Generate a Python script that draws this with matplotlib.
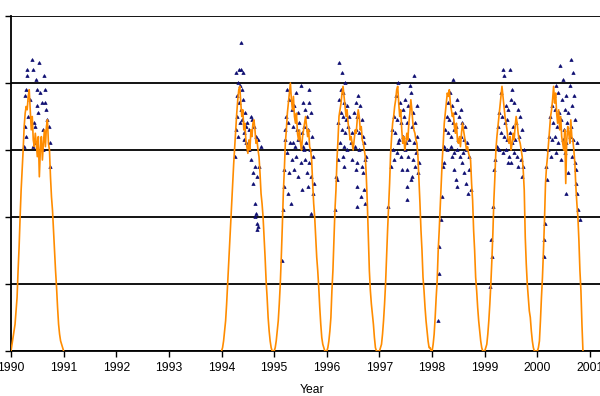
import numpy as np
import matplotlib
matplotlib.use("Agg")
import matplotlib.pyplot as plt

plt.rcParams['font.family'] = ['Liberation Sans', 'DejaVu Sans']

# modelled curve, weekly values (week 0 = 1 Jan)
line_1990 = [0, 2, 4, 6, 8, 12, 16, 24, 31, 40, 48, 54, 60, 67, 71, 73, 72, 76, 78, 72,
             66, 70, 63, 61, 65, 62, 58, 64, 52, 60, 64, 57, 62, 66, 61, 67, 69, 62, 60, 52,
             46, 42, 36, 30, 24, 19, 13, 8, 5, 3, 2, 1, 0]
line_1994 = [0, 1, 3, 6, 9, 14, 20, 26, 32, 38, 44, 50, 56, 61, 66, 71, 75, 78, 79, 74,
             70, 72, 66, 68, 63, 61, 59, 63, 60, 66, 64, 68, 69, 66, 62, 63, 60, 58, 53, 47,
             44, 40, 34, 28, 21, 16, 10, 6, 3, 1, 0, 0]
line_1995 = [0, 1, 3, 6, 9, 14, 20, 28, 37, 47, 54, 62, 66, 71, 74, 77, 80, 75, 72, 76,
             70, 68, 71, 65, 63, 66, 62, 60, 64, 66, 68, 70, 67, 64, 66, 61, 60, 57, 50, 44,
             40, 34, 28, 24, 19, 13, 8, 4, 2, 1, 0, 0]
line_1996 = [0, 1, 3, 6, 10, 18, 24, 33, 42, 48, 57, 63, 70, 72, 74, 77, 79, 76, 73, 70,
             72, 68, 66, 63, 64, 62, 60, 63, 66, 65, 69, 72, 70, 66, 67, 63, 62, 60, 58, 52,
             44, 34, 24, 18, 14, 11, 8, 4, 1, 0, 0, 0]
line_1997 = [0, 1, 2, 5, 9, 14, 20, 28, 36, 43, 50, 59, 64, 68, 70, 73, 75, 78, 79, 74,
             70, 72, 66, 62, 64, 60, 62, 65, 63, 68, 71, 75, 72, 68, 66, 65, 63, 62, 58, 51,
             44, 36, 30, 22, 18, 13, 9, 6, 3, 1, 1, 0]
line_1998 = [0, 2, 5, 10, 16, 21, 30, 36, 43, 50, 57, 62, 68, 71, 74, 77, 76, 78, 74, 72,
             70, 71, 67, 65, 68, 63, 62, 64, 61, 65, 68, 66, 64, 62, 60, 61, 59, 58, 57, 50,
             45, 36, 30, 22, 18, 13, 9, 6, 3, 1, 0, 0]
line_1999 = [0, 1, 2, 5, 9, 14, 20, 27, 35, 45, 52, 60, 64, 67, 70, 73, 76, 79, 76, 73,
             70, 68, 66, 63, 62, 64, 60, 62, 65, 63, 67, 70, 68, 65, 63, 62, 60, 58, 54, 48,
             34, 26, 20, 16, 12, 10, 6, 3, 1, 0, 0, 0]
line_2000 = [0, 1, 3, 9, 16, 22, 30, 39, 50, 55, 58, 62, 66, 70, 72, 75, 79, 74, 77, 71,
             68, 72, 66, 70, 64, 62, 60, 66, 50, 63, 67, 65, 62, 69, 64, 63, 60, 56, 49, 44,
             40, 33, 24, 18, 8, 0]

# measured values: fraction of the year, value
t_1990 = [0.39, 0.53, 0.30, 0.42, 0.31, 0.47, 0.62, 0.29, 0.49, 0.64, 0.27, 0.55, 0.36, 0.58,
          0.65, 0.50, 0.66, 0.51, 0.32, 0.26, 0.43, 0.68, 0.72, 0.28, 0.45, 0.61, 0.25, 0.48,
          0.74, 0.41, 0.60, 0.74]
v_1990 = [87, 86, 84, 84, 82, 81, 82, 78, 78, 78, 76, 77, 75, 74,
          74, 73, 72, 71, 70, 67, 68, 69, 67, 64, 67, 66, 61, 62,
          62, 61, 60, 55]
t_1994 = [0.36, 0.34, 0.37, 0.28, 0.40, 0.31, 0.35, 0.38, 0.29, 0.33, 0.365, 0.41, 0.44, 0.30,
          0.345, 0.39, 0.46, 0.27, 0.32, 0.42, 0.49, 0.52, 0.55, 0.58, 0.62, 0.66, 0.69, 0.26,
          0.47, 0.53, 0.75, 0.56, 0.64, 0.72, 0.59, 0.67, 0.60, 0.63, 0.65, 0.665, 0.685, 0.51,
          0.435, 0.64, 0.68]
v_1994 = [92, 84, 84, 83, 83, 80, 79, 78, 76, 74, 72, 75, 71, 70,
          68, 69, 67, 66, 64, 65, 68, 66, 70, 69, 67, 64, 63, 58,
          62, 60, 61, 57, 55, 55, 53, 52, 50, 44, 41, 38, 37, 60,
          63, 40, 36]
t_1995 = [0.50, 0.66, 0.25, 0.41, 0.54, 0.665, 0.28, 0.33, 0.38, 0.45, 0.58, 0.62, 0.70, 0.22,
          0.27, 0.35, 0.43, 0.48, 0.52, 0.56, 0.64, 0.72, 0.20, 0.30, 0.39, 0.46, 0.55, 0.60,
          0.68, 0.24, 0.33, 0.41, 0.50, 0.58, 0.66, 0.74, 0.19, 0.28, 0.37, 0.45, 0.62, 0.70,
          0.18, 0.26, 0.52, 0.64, 0.73, 0.32, 0.16, 0.69, 0.15, 0.76, 0.21, 0.36, 0.57]
v_1995 = [79, 78, 78, 77, 74, 74, 75, 72, 73, 71, 72, 70, 71, 70,
          68, 67, 66, 68, 65, 67, 66, 64, 63, 62, 61, 63, 61, 62,
          60, 59, 57, 58, 56, 57, 56, 58, 54, 53, 54, 52, 53, 52,
          49, 47, 48, 49, 47, 44, 42, 41, 27, 50, 66, 62, 60]
t_1996 = [0.23, 0.28, 0.35, 0.26, 0.60, 0.30, 0.24, 0.33, 0.39, 0.55, 0.63, 0.27, 0.31, 0.37,
          0.43, 0.52, 0.58, 0.66, 0.22, 0.29, 0.35, 0.41, 0.48, 0.56, 0.61, 0.69, 0.25, 0.33,
          0.39, 0.46, 0.54, 0.62, 0.70, 0.21, 0.30, 0.47, 0.58, 0.66, 0.73, 0.20, 0.18, 0.32,
          0.55, 0.57, 0.68, 0.71, 0.575, 0.72, 0.16, 0.64, 0.75]
v_1996 = [86, 83, 80, 78, 76, 77, 75, 74, 73, 74, 73, 71, 70, 69,
          70, 71, 70, 69, 68, 66, 65, 67, 65, 66, 65, 64, 62, 61,
          60, 62, 61, 60, 62, 57, 58, 57, 56, 55, 57, 51, 52, 55,
          54, 49, 53, 48, 43, 44, 42, 46, 58]
t_1997 = [0.66, 0.58, 0.36, 0.60, 0.49, 0.71, 0.31, 0.39, 0.44, 0.55, 0.64, 0.28, 0.34, 0.41,
          0.47, 0.52, 0.61, 0.68, 0.24, 0.30, 0.37, 0.45, 0.50, 0.57, 0.65, 0.72, 0.26, 0.33,
          0.40, 0.48, 0.55, 0.63, 0.70, 0.27, 0.21, 0.43, 0.52, 0.59, 0.67, 0.73, 0.515, 0.53,
          0.17, 0.75, 0.62, 0.35]
v_1997 = [82, 79, 80, 77, 75, 73, 76, 74, 72, 73, 71, 70, 69, 68,
          70, 68, 67, 68, 66, 65, 63, 64, 62, 63, 62, 64, 60, 59,
          58, 60, 58, 57, 59, 57, 55, 54, 54, 51, 55, 53, 49, 45,
          43, 56, 52, 62]
t_1998 = [0.40, 0.34, 0.47, 0.54, 0.31, 0.37, 0.44, 0.51, 0.28, 0.33, 0.39, 0.46, 0.57, 0.62,
          0.25, 0.30, 0.36, 0.42, 0.49, 0.55, 0.60, 0.66, 0.23, 0.29, 0.35, 0.41, 0.48, 0.53,
          0.58, 0.64, 0.70, 0.22, 0.20, 0.425, 0.45, 0.47, 0.56, 0.61, 0.65, 0.68, 0.73, 0.18,
          0.16, 0.14, 0.13, 0.12, 0.71, 0.38]
v_1998 = [81, 77, 75, 72, 74, 73, 71, 70, 70, 69, 68, 67, 68, 67,
          66, 65, 64, 66, 63, 64, 63, 62, 61, 60, 61, 59, 60, 58,
          59, 60, 58, 56, 55, 54, 51, 49, 56, 53, 50, 47, 48, 46,
          39, 31, 23, 9, 54, 58]
t_1999 = [0.35, 0.48, 0.37, 0.52, 0.49, 0.31, 0.40, 0.45, 0.56, 0.63, 0.28, 0.33, 0.38, 0.43,
          0.54, 0.60, 0.67, 0.25, 0.30, 0.36, 0.42, 0.47, 0.51, 0.58, 0.65, 0.71, 0.23, 0.27,
          0.34, 0.40, 0.46, 0.50, 0.56, 0.62, 0.69, 0.73, 0.20, 0.18, 0.44, 0.70, 0.15, 0.12,
          0.13, 0.10, 0.75, 0.64]
v_1999 = [84, 84, 82, 78, 75, 77, 73, 72, 74, 72, 71, 70, 68, 69,
          67, 68, 70, 67, 65, 64, 63, 65, 62, 63, 64, 66, 61, 60,
          59, 60, 58, 56, 59, 58, 57, 55, 57, 54, 56, 52, 43, 33,
          28, 19, 60, 55]
t_2000 = [0.64, 0.43, 0.67, 0.49, 0.36, 0.61, 0.31, 0.39, 0.46, 0.55, 0.70, 0.28, 0.34, 0.41,
          0.52, 0.59, 0.66, 0.24, 0.30, 0.37, 0.44, 0.50, 0.57, 0.63, 0.72, 0.22, 0.27, 0.33,
          0.40, 0.48, 0.54, 0.61, 0.68, 0.75, 0.20, 0.26, 0.35, 0.45, 0.52, 0.58, 0.55, 0.65,
          0.71, 0.74, 0.17, 0.18, 0.14, 0.13, 0.12, 0.76, 0.78, 0.80, 0.73]
v_2000 = [87, 85, 83, 81, 79, 79, 76, 77, 75, 76, 76, 73, 72, 71,
          72, 71, 73, 70, 68, 67, 69, 66, 68, 67, 69, 64, 63, 64,
          62, 63, 62, 64, 63, 62, 60, 58, 59, 57, 59, 53, 47, 58,
          56, 54, 55, 51, 38, 33, 28, 47, 42, 39, 50]

line_years = [1990, 1994, 1995, 1996, 1997, 1998, 1999, 2000]
line_vals = [line_1990, line_1994, line_1995, line_1996, line_1997, line_1998, line_1999, line_2000]
obs_years = [1990, 1994, 1995, 1996, 1997, 1998, 1999, 2000]
obs_t = [t_1990, t_1994, t_1995, t_1996, t_1997, t_1998, t_1999, t_2000]
obs_v = [v_1990, v_1994, v_1995, v_1996, v_1997, v_1998, v_1999, v_2000]

fig = plt.figure(figsize=(6, 3.96), dpi=100)
ax = fig.add_axes([11 / 600, 45 / 396, 589 / 600, 335 / 396])

# build the continuous curve, with a gap between 1991 and 1994
lx, ly = [], []
for yr, vals in zip(line_years, line_vals):
    if yr == 1994:
        lx.append(np.nan)
        ly.append(np.nan)
    lx += [yr + i / 52 for i in range(len(vals))]
    ly += vals

ox = np.concatenate([yr + np.array(t) for yr, t in zip(obs_years, obs_t)])
oy = np.concatenate([np.array(v) for v in obs_v])

ax.plot(ox, oy, linestyle='none', marker=(3, 0, 0), markersize=2.8,
        markeredgewidth=0.5, color='#0c0c70', zorder=2)
ax.plot(lx, ly, color='#ff8c00', linewidth=1.2, zorder=3)

ax.set_xlim(1990, 1990 + 589 / 52.64)
ax.set_ylim(0, 100)
ax.set_xticks(range(1990, 2002))
ax.set_yticks([0, 20, 40, 60, 80, 100])
ax.set_yticklabels([])
ax.grid(axis='y', color='black', linewidth=1.3)
ax.set_axisbelow(True)
for s in ['top', 'right']:
    ax.spines[s].set_visible(False)
for s in ['left', 'bottom']:
    ax.spines[s].set_linewidth(1.3)
ax.tick_params(axis='both', direction='out', length=4, width=1, labelsize=8.7, pad=4)
ax.set_xlabel('Year', fontsize=8.7)
ax.xaxis.set_label_coords(0.511, -0.098)

fig.savefig('out.png', dpi=100)
